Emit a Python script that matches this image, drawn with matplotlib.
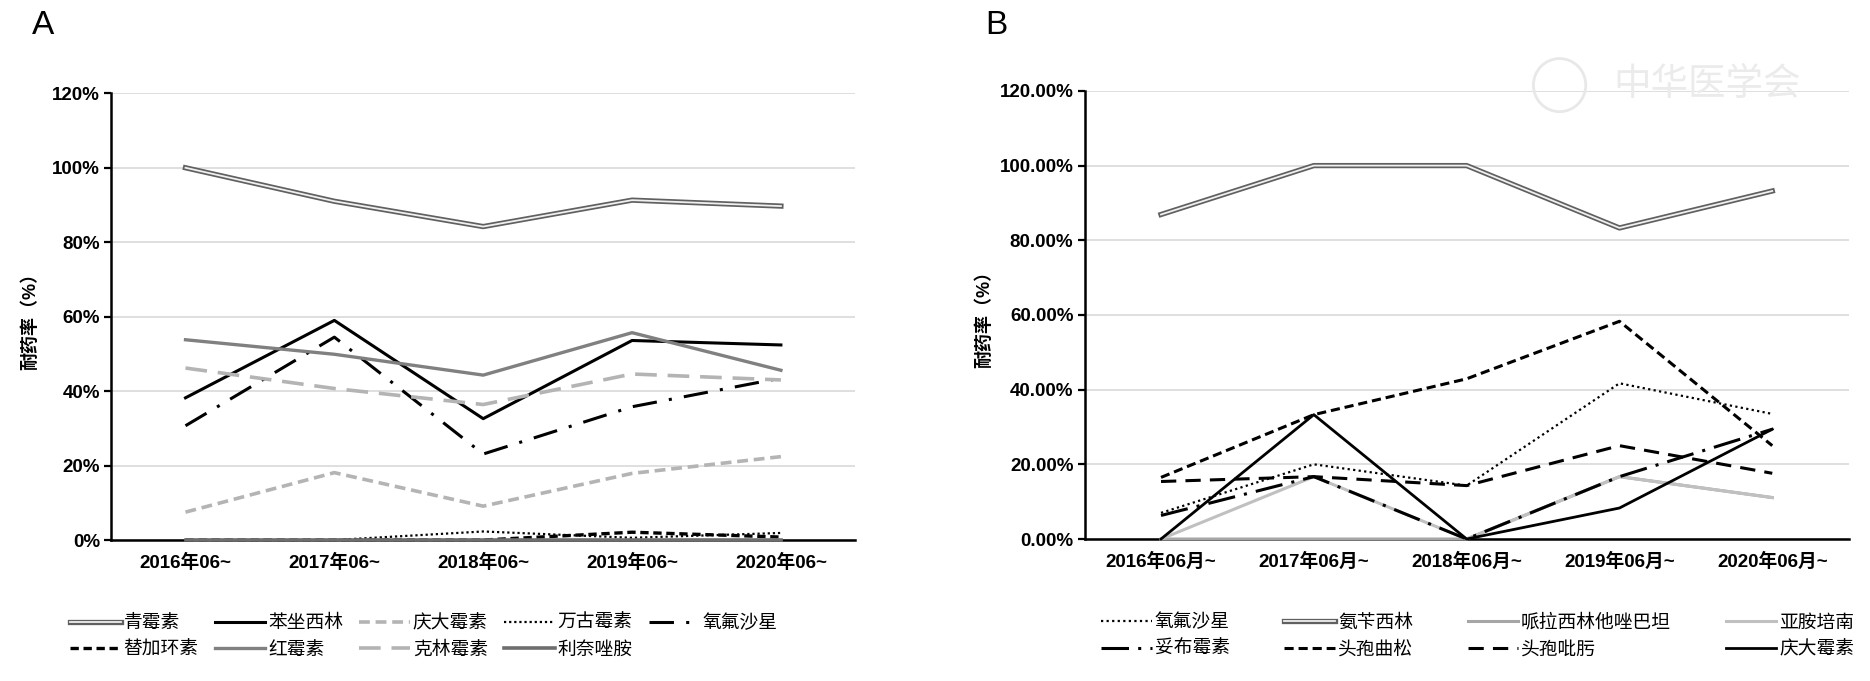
import matplotlib
matplotlib.use('Agg')
import matplotlib.pyplot as plt
import matplotlib.patheffects as pe
from matplotlib.ticker import PercentFormatter, MultipleLocator
from matplotlib.patches import Ellipse

plt.rcParams['font.family'] = ['Liberation Sans', 'Noto Sans CJK SC', 'DejaVu Sans']
plt.rcParams['axes.unicode_minus'] = False

# panel A
years_a = ['2016年06~', '2017年06~', '2018年06~', '2019年06~', '2020年06~']
names_a = ['青霉素', '苯坐西林', '庆大霉素', '万古霉素', '氧氟沙星',
           '替加环素', '红霉素', '克林霉素', '利奈唑胺']
qingmeisu = [100.0, 91.0, 84.2, 91.3, 89.7]
benzuoxilin = [38.2, 59.0, 32.6, 53.6, 52.4]
qingdamei_a = [7.5, 18.1, 9.1, 17.9, 22.4]
wangumeisu = [0.0, 0.0, 2.3, 0.6, 1.9]
yangfu_a = [30.7, 54.5, 23.1, 35.8, 43.5]
tijiahuan = [0.0, 0.0, 0.0, 2.1, 0.8]
hongmeisu = [53.8, 49.9, 44.3, 55.7, 45.6]
kelinmeisu = [46.2, 40.7, 36.4, 44.6, 43.0]
linaizuoan = [0.0, 0.0, 0.0, 0.0, 0.0]

# panel B
years_b = ['2016年06月~', '2017年06月~', '2018年06月~', '2019年06月~', '2020年06月~']
names_b = ['氧氟沙星', '氨苄西林', '哌拉西林他唑巴坦', '亚胺培南',
           '妥布霉素', '头孢曲松', '头孢吡肟', '庆大霉素']
yangfu_b = [7.0, 20.0, 14.3, 41.7, 33.5]
anbian = [86.9, 100.0, 100.0, 83.3, 93.2]
pila = [0.0, 0.0, 0.0, 16.7, 11.1]
yaan = [0.0, 16.7, 0.0, 16.7, 11.1]
tuobu = [6.3, 16.7, 0.0, 16.7, 29.4]
qusong = [16.5, 33.3, 42.9, 58.3, 25.0]
bifu = [15.4, 16.7, 14.3, 25.0, 17.6]
qingdamei_b = [0.0, 33.3, 0.0, 8.3, 29.4]

double = dict(color='#f0f0f0', lw=1.3,
              path_effects=[pe.Stroke(linewidth=3.8, foreground='#606060'), pe.Normal()])

styles_a = [
    double,
    dict(color='black', lw=2.2),
    dict(color='#b4b4b4', lw=2.6, dashes=(3, 1.6)),
    dict(color='black', lw=1.6, dashes=(1, 1.3)),
    dict(color='black', lw=2.2, dashes=(8, 4, 1, 4)),
    dict(color='black', lw=2.4, dashes=(2.5, 1.4)),
    dict(color='#808080', lw=2.4),
    dict(color='#b4b4b4', lw=2.6, dashes=(6, 3)),
    dict(color='#6e6e6e', lw=2.6),
]
styles_b = [
    dict(color='black', lw=1.6, dashes=(1, 1.5)),
    double,
    dict(color='#a6a6a6', lw=2.2),
    dict(color='#c0c0c0', lw=2.2),
    dict(color='black', lw=2.2, dashes=(9, 3, 1, 3)),
    dict(color='black', lw=2.2, dashes=(3, 1.6)),
    dict(color='black', lw=2.2, dashes=(5, 3)),
    dict(color='black', lw=2.0),
]

TICK_SIZE = 13.5


def setup_axes(ax, cats, decimals):
    ax.set_ylim(0, 120)
    ax.set_xlim(-0.5, len(cats) - 0.5)
    ax.yaxis.set_major_locator(MultipleLocator(20))
    ax.yaxis.set_major_formatter(PercentFormatter(xmax=100, decimals=decimals))
    ax.grid(axis='y', color='#d9d9d9', lw=1.2)
    ax.set_axisbelow(True)
    for s in ['top', 'right']:
        ax.spines[s].set_visible(False)
    ax.spines['left'].set_linewidth(1.8)
    ax.spines['bottom'].set_linewidth(1.8)
    ax.set_xticks(range(len(cats)))
    ax.set_xticklabels(cats, fontsize=TICK_SIZE, fontweight='bold')
    ax.tick_params(axis='x', length=0, pad=10)
    ax.tick_params(axis='y', length=5, width=1.6, direction='out', pad=3)
    for lab in ax.get_yticklabels():
        lab.set_fontsize(TICK_SIZE)
        lab.set_fontweight('bold')


def ordered(handles, ncol):
    # legend fills by column, so reorder to read row by row
    nrow = 2
    out = []
    for c in range(ncol):
        for r in range(nrow):
            i = r * ncol + c
            if i < len(handles):
                out.append(handles[i])
    return out


fig = plt.figure(figsize=(18.7, 6.81), dpi=100)
ax_a = fig.add_axes([0.0594, 0.207, 0.398, 0.656])
ax_b = fig.add_axes([0.580, 0.2085, 0.4086, 0.658])

series_a = [qingmeisu, benzuoxilin, qingdamei_a, wangumeisu, yangfu_a,
            tijiahuan, hongmeisu, kelinmeisu, linaizuoan]
series_b = [yangfu_b, anbian, pila, yaan, tuobu, qusong, bifu, qingdamei_b]

x_a = list(range(len(years_a)))
lines_a = []
for name, vals, st in zip(names_a, series_a, styles_a):
    ln, = ax_a.plot(x_a, vals, label=name, zorder=3, clip_on=False, **st)
    lines_a.append(ln)
setup_axes(ax_a, years_a, 0)

x_b = list(range(len(years_b)))
lines_b = []
for name, vals, st in zip(names_b, series_b, styles_b):
    ln, = ax_b.plot(x_b, vals, label=name, zorder=3, clip_on=False, **st)
    lines_b.append(ln)
setup_axes(ax_b, years_b, 2)

ylab = '耐药率（%）'
ax_a.set_ylabel(ylab, fontsize=13, fontweight='bold')
ax_a.yaxis.set_label_coords(-0.097, 0.5)
ax_b.set_ylabel(ylab, fontsize=13, fontweight='bold')
ax_b.yaxis.set_label_coords(-0.12, 0.5)

leg_kw = dict(frameon=False, handlelength=2.7, handletextpad=0.15,
              labelspacing=0.3, mode='expand', borderaxespad=0,
              prop={'family': ['Noto Sans CJK SC', 'DejaVu Sans'], 'size': 13.5})
ha = ordered(lines_a, 5)
ax_a.legend(ha, [h.get_label() for h in ha],
            ncol=5, loc='center', bbox_to_anchor=(-0.065, -0.265, 0.97, 0.1), **leg_kw)
hb = ordered(lines_b, 4)
ax_b.legend(hb, [h.get_label() for h in hb],
            ncol=4, loc='center', bbox_to_anchor=(0.012, -0.265, 1.005, 0.1), **leg_kw)

fig.text(0.017, 0.985, 'A', fontsize=24, va='top', ha='left')
fig.text(0.527, 0.985, 'B', fontsize=24, va='top', ha='left')

# faint watermark, top right
fig.patches.append(Ellipse((0.834, 0.875), 0.028, 0.078, transform=fig.transFigure,
                           fill=False, ec='#e8e8e8', lw=2))
fig.text(0.913, 0.875, '中华医学会', fontsize=27, color='#ebebeb',
         ha='center', va='center', style='italic')

fig.savefig('out.png', dpi=100)
